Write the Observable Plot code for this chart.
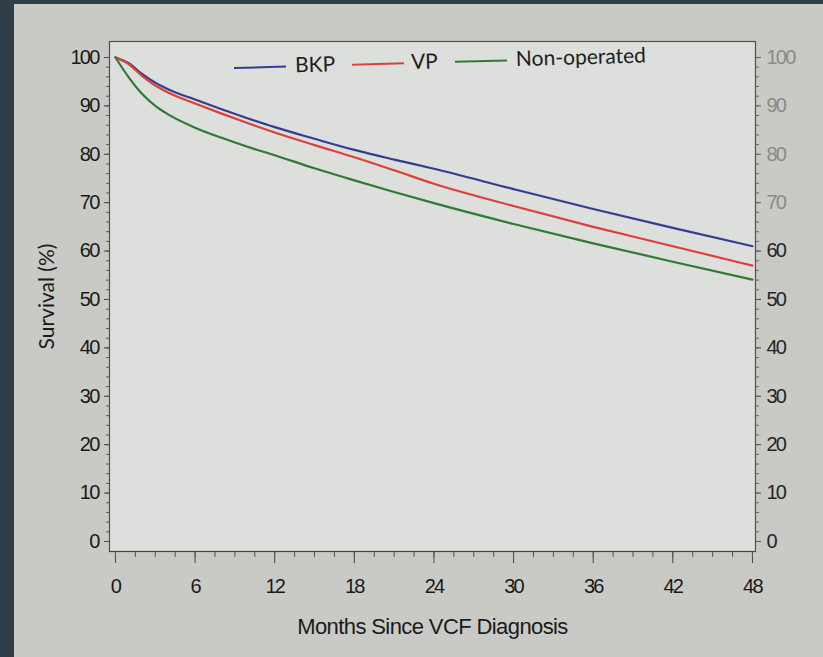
<!DOCTYPE html>
<html>
<head>
<meta charset="utf-8">
<script src="https://cdn.jsdelivr.net/npm/d3@7"></script>
<script src="https://cdn.jsdelivr.net/npm/@observablehq/plot@0.6"></script>
<style>
  html, body { margin: 0; padding: 0; }
  #wrap { position: relative; width: 823px; height: 657px; background: #2e3d48; overflow: hidden; }
  #paper { position: absolute; left: 14px; top: 4px; right: 0; bottom: 0; background: #c9cac6; }
  #chart { position: absolute; left: 0; top: 0; }
  #chart svg g[aria-label$="tick label"] text { letter-spacing: -1.8px; }
  #chart svg g.xtitle text { letter-spacing: -0.6px; }
  #legend { position: absolute; left: 234px; top: 52px; width: 430px; height: 28px;
            transform: rotate(-1.6deg); transform-origin: 0 50%;
            font-family: Lato, "Open Sans", sans-serif; font-size: 21px; color: #1e1e1e; }
  #legend .sw { position: absolute; top: 15px; width: 52px; height: 0; border-top: 2px solid; }
  #legend .lab { position: absolute; top: 0; line-height: 28px; white-space: nowrap; }
</style>
</head>
<body>
<div id="wrap">
  <div id="paper"></div>
  <div id="chart"></div>
  <div id="legend"></div>
</div>
<script>
// ---- data ----
const months = [0, 1, 2, 3, 4, 6, 8, 10, 12, 15, 18, 21, 24, 30, 36, 42, 48];
const bkp    = [100, 98.8, 96.6, 94.8, 93.4, 91.3, 89.3, 87.4, 85.6, 83.2, 80.9, 78.9, 77.0, 72.8, 68.7, 64.8, 61.0];
const vp     = [100, 98.6, 96.2, 94.2, 92.7, 90.5, 88.4, 86.4, 84.5, 81.9, 79.4, 76.7, 73.9, 69.3, 65.0, 61.0, 57.0];
const nonOp  = [100, 95.9, 92.5, 90.0, 88.2, 85.5, 83.4, 81.5, 79.8, 77.1, 74.6, 72.2, 69.9, 65.6, 61.6, 57.8, 54.1];
const seriesNames = ["BKP", "VP", "Non-operated"];
const seriesColors = ["#343c94", "#df3f3a", "#2f7b35"];
const xTicks = [0, 6, 12, 18, 24, 30, 36, 42, 48];
const yTicks = [0, 10, 20, 30, 40, 50, 60, 70, 80, 90, 100];
const yTicksRightFaded = [70, 80, 90, 100];
const yTicksRightDark = [0, 10, 20, 30, 40, 50, 60];
const xTitle = "Months Since VCF Diagnosis";
const yTitle = "Survival (%)";

const seriesValues = [bkp, vp, nonOp];
const rows = seriesNames.flatMap((s, i) => months.map((m, j) => ({series: s, month: m, surv: seriesValues[i][j]})));

const tickFont = '"Liberation Sans Narrow", "Liberation Sans", Arial, sans-serif';
const minorX = d3.range(0, 48.01, 1.5);
const minorY = d3.range(0, 100.01, 2);

const chart = Plot.plot({
  width: 823,
  height: 657,
  marginLeft: 109,
  marginRight: 68,
  marginTop: 41,
  marginBottom: 106,
  style: {background: "transparent", overflow: "visible"},
  x: {domain: [-0.45, 48.23]},
  y: {domain: [-2.07, 103.3]},
  color: {domain: seriesNames, range: seriesColors},
  marks: [
    Plot.frame({fill: "#dcdfdb", stroke: "#505050", strokeWidth: 1.2}),
    // left axis
    Plot.axisY({ticks: yTicks, tickSize: 5, tickPadding: 6, fontSize: 20, fontFamily: tickFont, fill: "#1a1a1a", stroke: "#444", label: null}),
    Plot.axisY({ticks: minorY, tickSize: 3, text: null, stroke: "#555", label: null}),
    // right axis
    Plot.axisY({anchor: "right", ticks: yTicksRightFaded, tickSize: 5, tickPadding: 6, fontSize: 20, fontFamily: tickFont, fill: "#8a8b88", stroke: "#666", label: null}),
    Plot.axisY({anchor: "right", ticks: yTicksRightDark, tickSize: 5, tickPadding: 6, fontSize: 20, fontFamily: tickFont, fill: "#262626", stroke: "#444", label: null}),
    Plot.axisY({anchor: "right", ticks: minorY, tickSize: 3, text: null, stroke: "#666", label: null}),
    // bottom axis
    Plot.axisX({ticks: xTicks, tickSize: 12, tickPadding: 15, fontSize: 20, fontFamily: tickFont, fill: "#1a1a1a", stroke: "#444", label: null}),
    Plot.axisX({ticks: minorX, tickSize: 6, text: null, stroke: "#555", label: null}),
    Plot.ruleY([-2.07], {stroke: "#444", strokeWidth: 1.2}),
    // titles
    Plot.text([xTitle], {frameAnchor: "bottom", dy: 82, fontSize: 22, fontFamily: tickFont, fill: "#1a1a1a", className: "xtitle"}),
    Plot.text([yTitle], {frameAnchor: "left", textAnchor: "middle", dx: -62, rotate: -90, fontSize: 21, fontFamily: 'Lato, "Open Sans", sans-serif', fill: "#1a1a1a"}),
    // curves
    Plot.line(rows, {x: "month", y: "surv", stroke: "series", z: "series", strokeWidth: 2.2, curve: "monotone-x"})
  ]
});
document.getElementById("chart").append(chart);

// legend (positions in px from the legend's left edge)
const legendSwatchX = [0, 118, 221];
const legendLabelX = [61, 177, 282];
const legend = document.getElementById("legend");
seriesNames.forEach((s, i) => {
  const sw = document.createElement("span");
  sw.className = "sw";
  sw.style.left = legendSwatchX[i] + "px";
  sw.style.borderTopColor = seriesColors[i];
  const lab = document.createElement("span");
  lab.className = "lab";
  lab.style.left = legendLabelX[i] + "px";
  lab.textContent = s;
  legend.append(sw, lab);
});
</script>
</body>
</html>
